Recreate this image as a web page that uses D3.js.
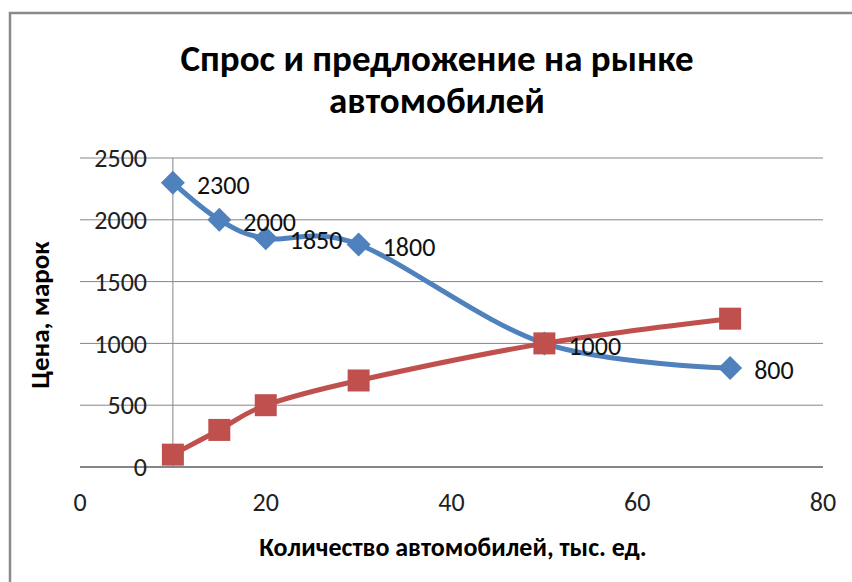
<!DOCTYPE html>
<html lang="ru">
<head>
    <meta charset="UTF-8">
    <title>Спрос и предложение</title>
    <script src="https://d3js.org/d3.v7.min.js"></script>
    <style>
        body {
            margin: 0;
            background-color: #fff;
            font-family: Carlito, "Liberation Sans", Arial, sans-serif;
        }
        #chart svg {
            display: block;
        }
    </style>
</head>
<body>
<div id="chart"></div>

<script>
    // данные
    const quantity = [10, 15, 20, 30, 50, 70];
    const demand = [2300, 2000, 1850, 1800, 1000, 800];
    const supply = [100, 300, 500, 700, 1000, 1200];
    const xTicks = [0, 20, 40, 60, 80];
    const yTicks = [0, 500, 1000, 1500, 2000, 2500];

    const width = 852;
    const height = 582;
    const plot = { left: 80, right: 823, top: 158, bottom: 467 };

    const blue = "#4f81bd";
    const red = "#c0504d";
    const gridColor = "#868686";

    const svg = d3.select("#chart")
        .append("svg")
        .attr("width", width)
        .attr("height", height);

    // рамка диаграммы
    svg.append("rect")
        .attr("x", 10)
        .attr("y", 13)
        .attr("width", width + 20)
        .attr("height", height + 20)
        .attr("fill", "#fff")
        .attr("stroke", "#8a8a8a")
        .attr("stroke-width", 2.5);

    const x = d3.scaleLinear().domain([0, 80]).range([plot.left, plot.right]);
    const y = d3.scaleLinear().domain([0, 2500]).range([plot.bottom, plot.top]);

    // горизонтальная сетка
    svg.append("g")
        .selectAll("line")
        .data(yTicks.filter(d => d > 0))
        .join("line")
        .attr("x1", plot.left)
        .attr("x2", plot.right)
        .attr("y1", d => y(d))
        .attr("y2", d => y(d))
        .attr("stroke", gridColor)
        .attr("stroke-width", 1);

    // вертикальная ось (пересекает X в 10)
    svg.append("line")
        .attr("x1", x(10)).attr("x2", x(10))
        .attr("y1", plot.top).attr("y2", plot.bottom)
        .attr("stroke", gridColor)
        .attr("stroke-width", 1);

    // горизонтальная ось
    svg.append("line")
        .attr("x1", plot.left).attr("x2", plot.right)
        .attr("y1", plot.bottom).attr("y2", plot.bottom)
        .attr("stroke", gridColor)
        .attr("stroke-width", 2);

    // подписи осей
    svg.append("g")
        .selectAll("text")
        .data(yTicks)
        .join("text")
        .attr("x", 147)
        .attr("y", d => y(d))
        .attr("dy", "0.35em")
        .attr("text-anchor", "end")
        .attr("font-size", 26)
        .attr("fill", "#222")
        .text(d => d);

    svg.append("g")
        .selectAll("text")
        .data(xTicks)
        .join("text")
        .attr("x", d => x(d))
        .attr("y", 502)
        .attr("dy", "0.35em")
        .attr("text-anchor", "middle")
        .attr("font-size", 26)
        .attr("fill", "#222")
        .text(d => d);

    // линии
    const demandData = quantity.map((q, i) => ({ q, v: demand[i] }));
    const supplyData = quantity.map((q, i) => ({ q, v: supply[i] }));

    const line = d3.line()
        .x(d => x(d.q))
        .y(d => y(d.v))
        .curve(d3.curveCatmullRom.alpha(0));

    svg.append("path")
        .datum(demandData)
        .attr("d", line)
        .attr("fill", "none")
        .attr("stroke", blue)
        .attr("stroke-width", 5);

    svg.append("path")
        .datum(supplyData)
        .attr("d", line)
        .attr("fill", "none")
        .attr("stroke", red)
        .attr("stroke-width", 5);

    // маркеры
    svg.append("g")
        .selectAll("path")
        .data(demandData)
        .join("path")
        .attr("transform", d => `translate(${x(d.q)},${y(d.v)})`)
        .attr("d", "M0,-12L12,0L0,12L-12,0Z")
        .attr("fill", blue);

    svg.append("g")
        .selectAll("rect")
        .data(supplyData)
        .join("rect")
        .attr("x", d => x(d.q) - 11)
        .attr("y", d => y(d.v) - 11)
        .attr("width", 22)
        .attr("height", 22)
        .attr("fill", red);

    // подписи данных (спрос)
    svg.append("g")
        .selectAll("text")
        .data(demandData)
        .join("text")
        .attr("x", d => x(d.q) + 24)
        .attr("y", d => y(d.v) + 2)
        .attr("dy", "0.35em")
        .attr("font-size", 26)
        .attr("fill", "#111")
        .text(d => d.v);

    // заголовок
    const title = svg.append("text")
        .attr("text-anchor", "middle")
        .attr("font-weight", "bold")
        .attr("font-size", 37)
        .attr("fill", "#000");
    title.append("tspan").attr("x", 437).attr("y", 71).text("Спрос и предложение на рынке");
    title.append("tspan").attr("x", 437).attr("y", 113).text("автомобилей");

    svg.append("text")
        .attr("x", 453)
        .attr("y", 556)
        .attr("text-anchor", "middle")
        .attr("font-weight", "bold")
        .attr("font-size", 26)
        .attr("fill", "#000")
        .text("Количество автомобилей, тыс. ед.");

    svg.append("text")
        .attr("transform", "translate(49,315) rotate(-90)")
        .attr("text-anchor", "middle")
        .attr("font-weight", "bold")
        .attr("font-size", 27)
        .attr("fill", "#000")
        .text("Цена, марок");
</script>
</body>
</html>
